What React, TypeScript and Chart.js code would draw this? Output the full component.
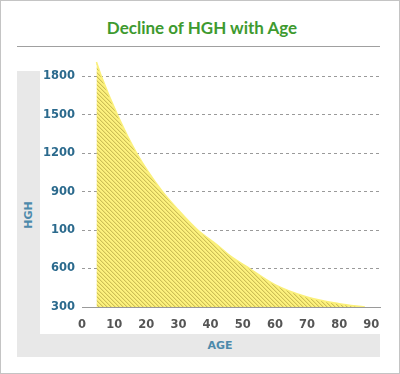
import React, { useEffect, useRef } from "react";
import { Chart, registerables } from "chart.js";

Chart.register(...registerables);

const ages = [4.5, 6, 11, 17, 25, 30, 36, 42, 46, 51, 60, 70, 80, 88];
const hgh = [1910, 1800, 1500, 1200, 900, 755, 600, 485, 400, 318, 174, 78, 26, 0];
const xTickValues = [0, 10, 20, 30, 40, 50, 60, 70, 80, 90];
const yTickValues = [0, 300, 600, 900, 1200, 1500, 1800];
const yTickLabels = ["300", "600", "100", "900", "1200", "1500", "1800"];
const titleText = "Decline of HGH with Age";
const xTitle = "AGE";
const yTitle = "HGH";

function makePattern(): CanvasPattern | string {
  const c = document.createElement("canvas");
  c.width = 4;
  c.height = 4;
  const g = c.getContext("2d");
  if (!g) return "#fbef7a";
  g.fillStyle = "#fdf27e";
  g.fillRect(0, 0, 4, 4);
  for (let i = 0; i < 4; i++) {
    g.fillStyle = "#cdbf56";
    g.fillRect(i, i, 1, 1);
    g.fillStyle = "#efe270";
    g.fillRect((i + 1) % 4, i, 1, 1);
  }
  const p = g.createPattern(c, "repeat");
  return p || "#fbef7a";
}

export default function App() {
  const ref = useRef<HTMLCanvasElement | null>(null);

  useEffect(() => {
    document.body.style.margin = "0";
    if (!ref.current) return;
    const pattern = makePattern();
    const chart = new Chart(ref.current, {
      type: "line",
      data: {
        datasets: [
          {
            data: ages.map((a, i) => ({ x: a, y: hgh[i] })),
            fill: "origin",
            backgroundColor: pattern as any,
            borderColor: "#fbf07a",
            borderWidth: 1.5,
            pointRadius: 0,
            cubicInterpolationMode: "monotone",
          },
        ],
      },
      options: {
        animation: false,
        responsive: false,
        devicePixelRatio: 1,
        layout: { padding: { left: 40, top: 60, right: 20, bottom: 27 } },
        plugins: { legend: { display: false }, tooltip: { enabled: false } },
        scales: {
          x: {
            type: "linear",
            min: 0,
            max: 92.7,
            afterBuildTicks: (s: any) => {
              s.ticks = xTickValues.map((v) => ({ value: v }));
            },
            afterFit: (s: any) => {
              s.height = 40;
            },
            grid: { display: false, drawTicks: false },
            border: { display: true, color: "#9a9a9a", width: 1 },
            ticks: {
              padding: 11,
              maxRotation: 0,
              color: "#555555",
              font: { family: "DejaVu Sans", weight: "bold", size: 11.5 },
              callback: (v: any) => String(v),
            },
          },
          y: {
            type: "linear",
            min: 0,
            max: 1925,
            afterBuildTicks: (s: any) => {
              s.ticks = yTickValues.map((v) => ({ value: v }));
            },
            afterFit: (s: any) => {
              s.width = 42;
            },
            grid: {
              drawTicks: false,
              color: (ctx: any) => (ctx.tick && ctx.tick.value === 0 ? "rgba(0,0,0,0)" : "#9a9a9a"),
              lineWidth: 1,
            },
            border: { display: false, dash: [3, 3] },
            ticks: {
              padding: 7,
              color: "#2b6a8d",
              font: { family: "DejaVu Sans", weight: "bold", size: 11.5 },
              callback: (v: any) => {
                const idx = yTickValues.indexOf(Number(v));
                return idx >= 0 ? yTickLabels[idx] : "";
              },
            },
          },
        },
      } as any,
    });
    return () => chart.destroy();
  }, []);

  return (
    <div style={{ position: "relative", width: 400, height: 374, background: "#fff", overflow: "hidden" }}>
      <div
        style={{
          position: "absolute",
          left: 0,
          top: 0,
          width: 400,
          height: 374,
          boxSizing: "border-box",
          border: "1px solid #c4c4c4",
        }}
      />
      <div
        style={{
          position: "absolute",
          left: 2,
          top: 18,
          width: 400,
          textAlign: "center",
          fontFamily: "Lato",
          fontWeight: "bold",
          fontSize: 17,
          lineHeight: "20px",
          color: "#3e9a2f",
        }}
      >
        {titleText}
      </div>
      <div style={{ position: "absolute", left: 17, top: 46, width: 363, height: 1, background: "#a0a0a0" }} />
      <div style={{ position: "absolute", left: 17, top: 71, width: 23, height: 286, background: "#e8e8e8" }} />
      <div style={{ position: "absolute", left: 40, top: 334, width: 340, height: 23, background: "#e8e8e8" }} />
      <div
        style={{
          position: "absolute",
          left: 28,
          top: 215,
          transform: "translate(-50%, -50%) rotate(-90deg)",
          fontFamily: "DejaVu Sans",
          fontWeight: "bold",
          fontSize: 11,
          color: "#4d8aab",
          whiteSpace: "nowrap",
        }}
      >
        {yTitle}
      </div>
      <div
        style={{
          position: "absolute",
          left: 220,
          top: 345,
          transform: "translate(-50%, -50%)",
          fontFamily: "DejaVu Sans",
          fontWeight: "bold",
          fontSize: 11,
          color: "#4d8aab",
          whiteSpace: "nowrap",
        }}
      >
        {xTitle}
      </div>
      <canvas ref={ref} width={400} height={374} style={{ position: "absolute", left: 0, top: 0 }} />
    </div>
  );
}
